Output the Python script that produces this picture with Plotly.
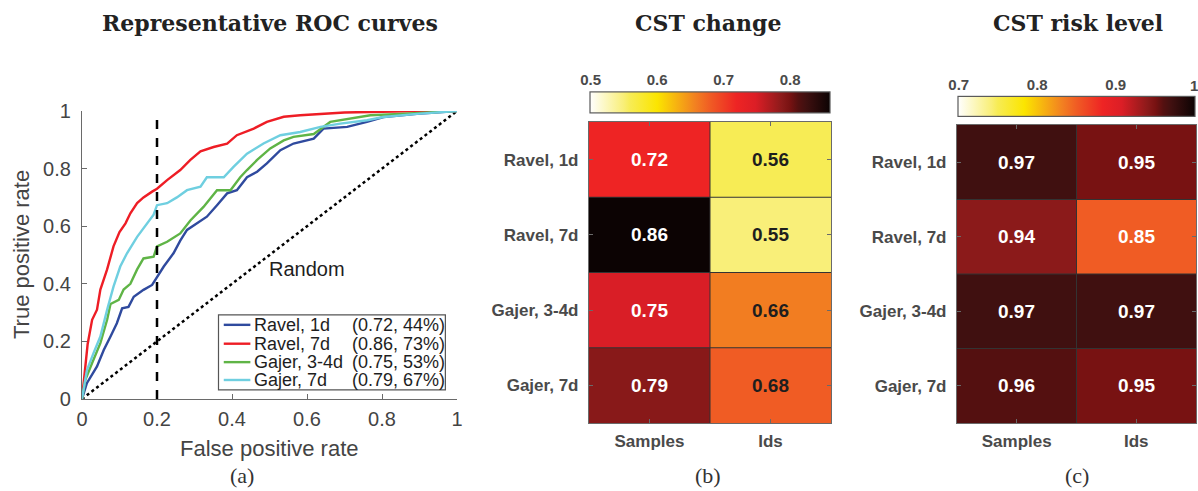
import plotly.graph_objects as go

W, H = 1198, 491

# ---------------- data ----------------
roc_names = ["Ravel, 1d", "Ravel, 7d", "Gajer, 3-4d", "Gajer, 7d"]
roc_stats = ["(0.72, 44%)", "(0.86, 73%)", "(0.75, 53%)", "(0.79, 67%)"]
roc_colors = ["#2f4a9e", "#ee1d25", "#5fb446", "#6fcfe0"]

ravel1_fpr = [0, 0.013, 0.04, 0.058, 0.076, 0.093, 0.107, 0.124, 0.138, 0.164, 0.187, 0.2, 0.218,
              0.244, 0.262, 0.28, 0.307, 0.333, 0.36, 0.387, 0.413, 0.44, 0.467, 0.493, 0.529,
              0.564, 0.618, 0.644, 0.707, 0.76, 0.804, 0.893, 1]
ravel1_tpr = [0, 0.055, 0.113, 0.17, 0.217, 0.263, 0.315, 0.32, 0.355, 0.379, 0.396, 0.425, 0.46,
              0.506, 0.55, 0.587, 0.61, 0.633, 0.673, 0.714, 0.725, 0.77, 0.789, 0.818, 0.864,
              0.887, 0.904, 0.939, 0.945, 0.962, 0.979, 0.99, 1]

ravel7_fpr = [0, 0.004, 0.015, 0.027, 0.04, 0.049, 0.067, 0.084, 0.1, 0.116, 0.129, 0.147, 0.164,
              0.187, 0.2, 0.227, 0.262, 0.289, 0.316, 0.351, 0.387, 0.413, 0.458, 0.493, 0.538,
              0.582, 0.636, 0.7, 0.9, 1]
ravel7_tpr = [0, 0.055, 0.19, 0.275, 0.31, 0.38, 0.45, 0.53, 0.58, 0.61, 0.645, 0.68, 0.7,
              0.72, 0.73, 0.76, 0.795, 0.83, 0.86, 0.875, 0.887, 0.916, 0.939, 0.962, 0.98,
              0.985, 0.99, 0.995, 1.0, 1]

gajer34_fpr = [0, 0.009, 0.027, 0.049, 0.067, 0.076, 0.098, 0.111, 0.129, 0.147, 0.164, 0.191, 0.2,
               0.227, 0.262, 0.289, 0.324, 0.36, 0.396, 0.422, 0.44, 0.467, 0.502, 0.538, 0.564,
               0.618, 0.662, 0.716, 0.769, 0.849, 1]
gajer34_tpr = [0, 0.067, 0.125, 0.194, 0.275, 0.33, 0.344, 0.38, 0.4, 0.45, 0.488, 0.494, 0.53,
               0.546, 0.575, 0.62, 0.667, 0.725, 0.725, 0.77, 0.795, 0.83, 0.87, 0.898, 0.91,
               0.92, 0.962, 0.973, 0.985, 0.99, 1]

gajer7_fpr = [0, 0.013, 0.031, 0.049, 0.067, 0.084, 0.102, 0.12, 0.147, 0.173, 0.191, 0.2, 0.227,
              0.253, 0.28, 0.316, 0.333, 0.378, 0.404, 0.44, 0.484, 0.529, 0.582, 0.636, 0.689,
              0.76, 0.804, 0.893, 1]
gajer7_tpr = [0, 0.1, 0.16, 0.217, 0.31, 0.39, 0.46, 0.506, 0.563, 0.61, 0.64, 0.673, 0.68,
              0.7, 0.725, 0.737, 0.77, 0.77, 0.806, 0.852, 0.887, 0.916, 0.927, 0.945, 0.956,
              0.968, 0.979, 0.99, 1]

roc_fpr = [ravel1_fpr, ravel7_fpr, gajer34_fpr, gajer7_fpr]
roc_tpr = [ravel1_tpr, ravel7_tpr, gajer34_tpr, gajer7_tpr]
fpr_threshold = 0.2

rows = ["Ravel, 1d", "Ravel, 7d", "Gajer, 3-4d", "Gajer, 7d"]
cols = ["Samples", "Ids"]
cst_change = [[0.72, 0.56], [0.86, 0.55], [0.75, 0.66], [0.79, 0.68]]
cst_risk = [[0.97, 0.95], [0.94, 0.85], [0.97, 0.97], [0.96, 0.95]]
change_range = [0.5, 0.86]
risk_range = [0.7, 1.0]
change_ticks = [0.5, 0.6, 0.7, 0.8]
risk_ticks = [0.7, 0.8, 0.9, 1.0]
roc_ticks = [0, 0.2, 0.4, 0.6, 0.8, 1]

# ---------------- styling ----------------
SANS = "Liberation Sans, Arial, sans-serif"
SERIF_B = "DejaVu Serif, serif"
SERIF = "Liberation Serif, Times New Roman, serif"
GRAY = "#444444"
AX = "#6a6a6a"

cscale = [
    [0.0, "#ffffff"], [0.14, "#f9ef78"], [0.167, "#f7ec55"], [0.28, "#fbe500"],
    [0.44, "#f28021"], [0.5, "#f05c24"], [0.61, "#ee2424"], [0.69, "#dc1e26"],
    [0.8, "#8b1a1a"], [0.833, "#781212"], [0.867, "#541010"], [0.9, "#401010"],
    [1.0, "#0c0303"],
]

def px(x):
    return x / W

def py(y):
    return 1 - y / H

fig = go.Figure()

# ---------------- panel (a) ----------------
fig.add_trace(go.Scatter(x=[0, 1], y=[0, 1], mode="lines",
                         line=dict(color="black", width=2.5, dash="dot"),
                         showlegend=False, hoverinfo="skip", xaxis="x", yaxis="y"))
for f, t, c in zip(roc_fpr, roc_tpr, roc_colors):
    fig.add_trace(go.Scatter(x=f, y=t, mode="lines", line=dict(color=c, width=2.4),
                             showlegend=False, xaxis="x", yaxis="y"))

shapes = []
annotations = []
shapes.append(dict(type="line", xref="x", yref="y", x0=fpr_threshold, x1=fpr_threshold,
                   y0=0, y1=1, line=dict(color="black", width=2.5, dash="dash")))

# custom legend
lg_x0, lg_x1, lg_y0, lg_y1 = 0.364, 0.969, 0.032, 0.292
shapes.append(dict(type="rect", xref="x", yref="y", x0=lg_x0, x1=lg_x1, y0=lg_y0, y1=lg_y1,
                   line=dict(color="#555555", width=1.2), fillcolor="white"))
row_y = [0.2575, 0.192, 0.128, 0.066]
lgfont = dict(family=SANS, size=18, color="#1e1e1e")
for i, (n, s, c) in enumerate(zip(roc_names, roc_stats, roc_colors)):
    shapes.append(dict(type="line", xref="x", yref="y", x0=0.378, x1=0.449, y0=row_y[i], y1=row_y[i],
                       line=dict(color=c, width=2.4)))
    annotations.append(dict(x=0.452, y=row_y[i], xref="x", yref="y", text=n, showarrow=False,
                            xanchor="left", yanchor="middle", font=lgfont))
    annotations.append(dict(x=0.714, y=row_y[i], xref="x", yref="y", text=s, showarrow=False,
                            xanchor="left", yanchor="middle", font=lgfont))

annotations.append(dict(x=0.6, y=0.45, xref="x", yref="y", text="Random", showarrow=False,
                        font=dict(family=SANS, size=20, color="#1e1e1e")))

# ---------------- heatmaps ----------------
def add_heat(z, rng, xa, ya, cb_center_x, cb_center_y, cb_len, cb_thick, white_thr):
    fig.add_trace(go.Heatmap(z=z, x=cols, y=rows, colorscale=cscale, zmin=rng[0], zmax=rng[1],
                             xaxis=xa, yaxis=ya, hoverinfo="z",
                             colorbar=dict(orientation="h", x=cb_center_x, xanchor="center",
                                           y=cb_center_y, yanchor="middle", len=cb_len,
                                           lenmode="fraction", thickness=cb_thick,
                                           showticklabels=False, ticks="", outlinewidth=1.2,
                                           outlinecolor="#5a5a5a", xpad=0, ypad=0)))
    for r, rowname in enumerate(rows):
        for ci, colname in enumerate(cols):
            v = z[r][ci]
            annotations.append(dict(x=colname, y=rowname, xref=xa, yref=ya, text=f"<b>{v:.2f}</b>",
                                    showarrow=False,
                                    font=dict(family=SANS, size=19,
                                              color="white" if v >= white_thr else "#1e1e1e")))
    # cell separators
    for k in range(1, len(cols)):
        shapes.append(dict(type="line", xref=xa, yref=ya + " domain", x0=k - 0.5, x1=k - 0.5,
                           y0=0, y1=1, line=dict(color="#333333", width=1)))
    for k in range(1, len(rows)):
        shapes.append(dict(type="line", xref=xa + " domain", yref=ya, x0=0, x1=1, y0=k - 0.5,
                           y1=k - 0.5, line=dict(color="#333333", width=1)))

add_heat(cst_change, change_range, "x2", "y2", px(710), py(102.5), 240 / W, 21, 0.70)
add_heat(cst_risk, risk_range, "x3", "y3", px(1076.5), py(107), 237 / W, 20, 0.0)

# invisible carriers so the colour-bar tick axes are drawn
for xa, ya in [("x4", "y4"), ("x5", "y5")]:
    fig.add_trace(go.Scatter(x=[None], y=[None], mode="markers", xaxis=xa, yaxis=ya,
                             showlegend=False, hoverinfo="skip"))

# ---------------- layout ----------------
tickfont = dict(family=SANS, size=20, color=GRAY)
hm_tick = dict(family=SANS, size=17, color="#4a4a4a", weight="bold")
cb_tick = dict(family=SANS, size=15, color="#4a4a4a", weight="bold")

eps = 1e-3
layout = dict(
    width=W, height=H, margin=dict(l=0, r=0, t=0, b=0, autoexpand=False),
    paper_bgcolor="white", plot_bgcolor="white", showlegend=False,
    xaxis=dict(domain=[px(82), px(457)], range=[0, 1], tickvals=roc_ticks,
               ticktext=[f"{v:g}" for v in roc_ticks], ticks="inside", ticklen=5,
               tickcolor=AX, showline=True, linecolor=AX, linewidth=1.2, showgrid=False,
               zeroline=False, tickfont=tickfont, anchor="y", ticklabelstandoff=2),
    yaxis=dict(domain=[py(399), py(111)], range=[0, 1], tickvals=roc_ticks,
               ticktext=[f"{v:g}" for v in roc_ticks], ticks="inside", ticklen=5,
               tickcolor=AX, showline=True, linecolor=AX, linewidth=1.2, showgrid=False,
               zeroline=False, tickfont=tickfont, anchor="x", ticklabelstandoff=6),
    xaxis2=dict(domain=[px(589), px(831)], anchor="y2", ticks="inside", ticklen=4,
                tickcolor=AX, showline=True, mirror="ticks", linecolor=AX, linewidth=1.2,
                tickfont=hm_tick, showgrid=False, ticklabelstandoff=2),
    yaxis2=dict(domain=[py(423), py(122)], anchor="x2", autorange="reversed", ticks="inside",
                ticklen=4, tickcolor=AX, showline=True, mirror="ticks", linecolor=AX,
                linewidth=1.2, tickfont=hm_tick, showgrid=False, ticklabelstandoff=6),
    xaxis3=dict(domain=[px(957), px(1196)], anchor="y3", ticks="inside", ticklen=4,
                tickcolor=AX, showline=True, mirror="ticks", linecolor=AX, linewidth=1.2,
                tickfont=hm_tick, showgrid=False, ticklabelstandoff=2),
    yaxis3=dict(domain=[py(423), py(125)], anchor="x3", autorange="reversed", ticks="inside",
                ticklen=4, tickcolor=AX, showline=True, mirror="ticks", linecolor=AX,
                linewidth=1.2, tickfont=hm_tick, showgrid=False, ticklabelstandoff=6),
    xaxis4=dict(domain=[px(590), px(830)], range=[change_range[0] - eps, change_range[1]],
                anchor="y4", side="top",
                tickvals=change_ticks, ticktext=[f"{v:g}" for v in change_ticks],
                ticks="", showline=False, showgrid=False, zeroline=False, tickfont=cb_tick,
                ticklabelstandoff=3, fixedrange=True),
    yaxis4=dict(domain=[py(113), py(92)], range=[0, 1], anchor="x4", visible=False,
                fixedrange=True),
    # the last label sits at the page edge, where the axis would hide it: drawn as annotation
    xaxis5=dict(domain=[px(958), px(1195)], range=[risk_range[0] - eps, risk_range[1] + eps],
                anchor="y5", side="top",
                tickvals=risk_ticks[:-1], ticktext=[f"{v:g}" for v in risk_ticks[:-1]],
                ticks="", showline=False, showgrid=False, zeroline=False, tickfont=cb_tick,
                ticklabelstandoff=3, fixedrange=True),
    yaxis5=dict(domain=[py(117), py(97)], range=[0, 1], anchor="x5", visible=False,
                fixedrange=True),
)
fig.update_layout(**layout)

annotations.append(dict(x=risk_ticks[-1], y=1, xref="x5", yref="y5 domain",
                        text=f"{risk_ticks[-1]:g}", showarrow=False, xanchor="center",
                        yanchor="bottom", yshift=1, font=cb_tick))

# titles & axis labels
def pa(x, y, text, font, **kw):
    d = dict(x=px(x), y=py(y), xref="paper", yref="paper", text=text, showarrow=False,
             font=font, xanchor="center", yanchor="middle")
    d.update(kw)
    annotations.append(d)

tfont = dict(family=SERIF_B, size=22, color="#222222")
pa(270, 23, "<b>Representative ROC curves</b>", tfont)
pa(708, 23, "<b>CST change</b>", tfont)
pa(1078, 23, "<b>CST risk level</b>", tfont)
lfont = dict(family=SERIF, size=22, color="#333333")
pa(242, 475, "(a)", lfont)
pa(708, 475, "(b)", lfont)
pa(1077, 475, "(c)", lfont)
afont = dict(family=SANS, size=22, color=GRAY)
pa(269, 448, "False positive rate", afont)
pa(21, 255, "True positive rate", afont, textangle=-90)

fig.update_layout(shapes=shapes, annotations=annotations)
# place the fixed-size figure flush with the window's top-left corner
fig.write_html("out.html",
               config={"displayModeBar": False},
               post_script="document.body.style.margin='0px';"
                           "document.body.style.overflow='hidden';")
